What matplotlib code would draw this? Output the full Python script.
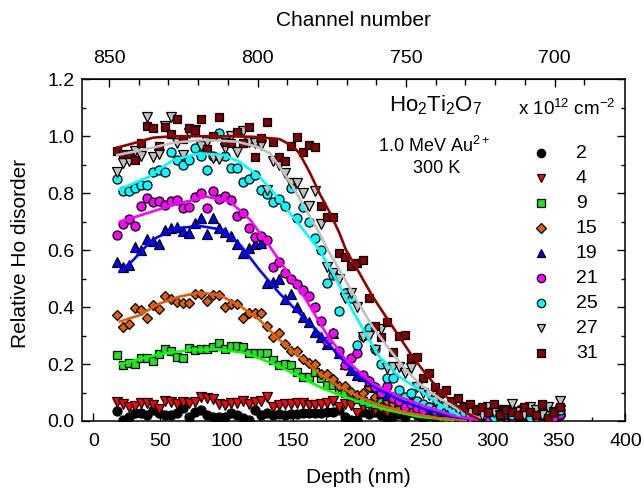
import numpy as np
import matplotlib.pyplot as plt
from matplotlib.ticker import MultipleLocator, FixedLocator

plt.rcParams['font.family'] = ['Liberation Sans', 'DejaVu Sans']
plt.rcParams['mathtext.fontset'] = 'custom'
plt.rcParams['mathtext.rm'] = 'Liberation Sans'

# depth grid of the RBS channels (nm)
depth = [18, 22.5, 27, 31.5, 36, 40.5, 45, 49.5, 54, 58.5, 63, 67.5, 72, 76.5, 81,
         85.5, 90, 94.5, 99, 103.5, 108, 112.5, 117, 121.5, 126, 130.5, 135, 139.5,
         144, 148.5, 153, 157.5, 162, 166.5, 171, 175.5, 180, 184.5, 189, 193.5, 198,
         202.5, 207, 211.5, 216, 220.5, 225, 229.5, 234, 238.5, 243, 247.5, 252,
         256.5, 261, 265.5, 270, 274.5, 279, 283.5, 288, 292.5, 297, 301.5, 306,
         310.5, 315, 319.5, 324, 328.5, 333, 337.5, 342, 346.5, 351]

# relative Ho disorder per fluence (x 10^12 cm^-2)
f2 = [0.036, 0.004, 0.015, 0.027, 0.027, 0.021, 0.039, 0.027, 0.021, 0.021, 0.027,
      0.045, 0.015, 0.033, 0.039, 0.021, 0.015, 0.015, 0.015, 0.027, 0.021, 0.010,
      0.004, 0.039, 0.021, 0.027, 0.021, 0.025, 0.022, 0.025, 0.025, 0.027, 0.027,
      0.029, 0.027, 0.033, 0.033, 0.040, 0.015, 0.004, 0.004, 0.030, 0.025, 0.030,
      0.020, 0.010, 0.018, 0.025, 0.015, 0.030, 0.020, 0.010, 0.025, 0.015, 0.030,
      0.020, 0.010, 0.025, 0.020, 0.030, 0.015, 0.010, 0.025, 0.020, 0.030, 0.015,
      0.020, 0.010, 0.025, 0.030, 0.015, 0.020, 0.025, 0.010, 0.020]
f4 = [0.068, 0.059, 0.050, 0.053, 0.064, 0.062, 0.056, 0.041, 0.071, 0.068, 0.060,
      0.068, 0.064, 0.068, 0.085, 0.080, 0.076, 0.060, 0.056, 0.064, 0.064, 0.071,
      0.060, 0.068, 0.071, 0.085, 0.050, 0.055, 0.058, 0.058, 0.064, 0.062, 0.055,
      0.055, 0.060, 0.062, 0.070, 0.050, 0.060, 0.056, 0.029, 0.050, 0.060, 0.040,
      0.050, 0.030, 0.045, 0.035, 0.050, 0.030, 0.040, 0.025, 0.045, 0.030, 0.035,
      0.020, 0.040, 0.030, 0.025, 0.040, 0.020, 0.035, 0.030, 0.015, 0.040, 0.025,
      0.030, 0.020, 0.040, 0.025, 0.015, 0.035, 0.030, 0.020, 0.040]
f9 = [0.232, 0.197, 0.203, 0.200, 0.220, 0.220, 0.212, 0.235, 0.253, 0.247, 0.226,
      0.220, 0.257, 0.249, 0.253, 0.253, 0.261, 0.273, 0.253, 0.264, 0.263, 0.259,
      0.240, 0.240, 0.238, 0.238, 0.214, 0.197, 0.200, 0.197, 0.173, 0.156, 0.156,
      0.173, 0.150, 0.126, 0.126, 0.110, 0.100, 0.090, 0.076, 0.070, 0.062, 0.060,
      0.070, 0.085, 0.050, 0.060, 0.045, 0.055, 0.040, 0.050, 0.035, 0.045, 0.030,
      0.040, 0.025, 0.035, 0.045, 0.030, 0.020, 0.035, 0.025, 0.040, 0.030, 0.020,
      0.035, 0.025, 0.030, 0.040, 0.020, 0.030, 0.025, 0.035, 0.030]
f15 = [0.372, 0.331, 0.341, 0.396, 0.390, 0.361, 0.407, 0.392, 0.440, 0.427, 0.419,
       0.413, 0.416, 0.446, 0.446, 0.423, 0.442, 0.442, 0.401, 0.411, 0.411, 0.361,
       0.378, 0.380, 0.378, 0.334, 0.294, 0.308, 0.270, 0.247, 0.247, 0.217, 0.203,
       0.200, 0.165, 0.165, 0.146, 0.123, 0.123, 0.103, 0.090, 0.100, 0.120, 0.085,
       0.050, 0.070, 0.060, 0.050, 0.040, 0.045, 0.030, 0.040, 0.020, 0.030, 0.015,
       0.025, 0.010, 0.020, 0.030, 0.010, 0.020, 0.015, 0.025, 0.010, 0.020, 0.015,
       0.010, 0.025, 0.015, 0.020, 0.010, 0.020, 0.015, 0.010, 0.020]
f19 = [0.559, 0.542, 0.548, 0.612, 0.600, 0.638, 0.633, 0.621, 0.671, 0.677, 0.682,
       0.668, 0.659, 0.694, 0.712, 0.656, 0.712, 0.677, 0.665, 0.650, 0.620, 0.589,
       0.607, 0.622, 0.626, 0.486, 0.489, 0.498, 0.427, 0.446, 0.400, 0.366, 0.349,
       0.314, 0.294, 0.270, 0.310, 0.240, 0.200, 0.180, 0.162, 0.158, 0.140, 0.120,
       0.100, 0.090, 0.085, 0.070, 0.060, 0.065, 0.050, 0.055, 0.040, 0.050, 0.035,
       0.045, 0.030, 0.040, 0.025, 0.035, 0.030, 0.040, 0.020, 0.030, 0.035, 0.025,
       0.030, 0.040, 0.020, 0.030, 0.025, 0.035, 0.030, 0.020, 0.040]
f21 = [0.653, 0.692, 0.708, 0.685, 0.755, 0.782, 0.770, 0.773, 0.760, 0.774, 0.776,
       0.747, 0.750, 0.788, 0.802, 0.747, 0.809, 0.779, 0.790, 0.776, 0.720, 0.729,
       0.677, 0.645, 0.651, 0.636, 0.542, 0.560, 0.519, 0.500, 0.480, 0.460, 0.439,
       0.400, 0.351, 0.282, 0.308, 0.246, 0.197, 0.220, 0.240, 0.160, 0.140, 0.120,
       0.100, 0.123, 0.080, 0.070, 0.050, 0.060, 0.045, 0.040, 0.050, 0.030, 0.040,
       0.025, 0.035, 0.020, 0.030, 0.025, 0.035, 0.020, 0.015, 0.030, 0.020, 0.025,
       0.015, 0.030, 0.020, 0.025, 0.015, 0.020, 0.030, 0.015, 0.025]
f25 = [0.849, 0.809, 0.809, 0.817, 0.829, 0.829, 0.876, 0.881, 0.876, 0.944, 0.917,
       0.899, 0.917, 0.958, 0.930, 0.881, 0.930, 1.010, 0.932, 0.887, 0.887, 0.840,
       0.849, 0.864, 0.811, 0.796, 0.770, 0.780, 0.755, 0.817, 0.712, 0.750, 0.700,
       0.644, 0.600, 0.484, 0.513, 0.386, 0.450, 0.431, 0.267, 0.300, 0.326, 0.252,
       0.200, 0.150, 0.150, 0.110, 0.085, 0.100, 0.070, 0.060, 0.050, 0.040, 0.045,
       0.030, 0.040, 0.020, 0.030, 0.025, 0.035, 0.020, 0.030, 0.015, 0.025, 0.030,
       0.020, 0.035, 0.025, 0.015, 0.030, 0.020, 0.025, 0.030, 0.040]
f27 = [0.876, 0.907, 0.913, 0.949, 0.930, 1.066, 0.928, 0.937, 1.036, 1.066, 0.975,
       0.934, 1.013, 1.022, 0.966, 0.980, 0.922, 0.919, 0.960, 1.001, 0.946, 1.019,
       0.981, 0.977, 0.969, 0.811, 0.914, 0.900, 0.872, 0.835, 0.837, 0.800, 0.755,
       0.809, 0.692, 0.542, 0.519, 0.498, 0.431, 0.450, 0.401, 0.296, 0.300, 0.250,
       0.322, 0.185, 0.191, 0.191, 0.170, 0.185, 0.120, 0.100, 0.090, 0.070, 0.080,
       0.050, 0.060, 0.040, 0.050, 0.030, 0.040, 0.020, 0.050, 0.030, 0.020, 0.040,
       0.060, 0.030, 0.020, 0.050, 0.040, 0.020, 0.050, 0.030, 0.070]
f31 = [0.948, 0.937, 0.937, 0.917, 0.975, 1.036, 1.028, 0.966, 1.033, 1.008, 1.060,
       0.990, 1.028, 1.022, 1.060, 0.954, 1.000, 1.066, 0.981, 0.975, 1.016, 0.975,
       1.034, 0.928, 0.995, 1.049, 0.981, 0.926, 0.913, 0.966, 0.998, 0.944, 0.969,
       0.961, 0.755, 0.715, 0.715, 0.589, 0.577, 0.544, 0.556, 0.565, 0.431, 0.334,
       0.296, 0.349, 0.243, 0.300, 0.302, 0.220, 0.224, 0.150, 0.170, 0.120, 0.100,
       0.110, 0.070, 0.080, 0.050, 0.060, 0.040, 0.050, 0.030, 0.060, 0.020, 0.040,
       0.030, 0.020, 0.050, 0.030, 0.020, 0.060, 0.010, 0.030, 0.050]

# fitted curves (depth, disorder)
fit9_d = [20, 50, 73, 93, 113, 125, 140, 155, 170, 185, 200, 220, 245, 270]
fit9_v = [0.200, 0.235, 0.249, 0.252, 0.240, 0.220, 0.191, 0.156, 0.120, 0.091, 0.068, 0.040, 0.015, 0.003]
fit15_d = [20, 35, 50, 65, 80, 95, 110, 125, 140, 155, 170, 185, 200, 215, 235, 260, 280]
fit15_v = [0.349, 0.372, 0.413, 0.437, 0.451, 0.442, 0.405, 0.355, 0.284, 0.226, 0.167, 0.120, 0.085, 0.056, 0.030, 0.010, 0.003]
fit19_d = [20, 30, 40, 48, 63, 80, 98, 111, 125, 140, 155, 170, 185, 200, 215, 230, 250, 270, 290]
fit19_v = [0.525, 0.565, 0.615, 0.645, 0.677, 0.685, 0.671, 0.615, 0.530, 0.448, 0.378, 0.308, 0.226, 0.156, 0.109, 0.074, 0.040, 0.015, 0.003]
fit21_d = [20, 40, 60, 85, 103, 118, 130, 145, 160, 175, 190, 210, 230, 250, 270, 290]
fit21_v = [0.700, 0.729, 0.759, 0.788, 0.770, 0.706, 0.630, 0.530, 0.425, 0.308, 0.214, 0.132, 0.085, 0.050, 0.020, 0.003]
fit25_d = [20, 42, 60, 80, 98, 110, 125, 135, 150, 160, 170, 180, 190, 203, 215, 230, 245, 260, 275]
fit25_v = [0.814, 0.858, 0.917, 0.940, 0.934, 0.910, 0.858, 0.805, 0.717, 0.659, 0.600, 0.520, 0.430, 0.320, 0.226, 0.156, 0.109, 0.060, 0.020]
fit27_d = [18, 40, 60, 83, 108, 123, 133, 140, 150, 160, 170, 177, 188, 198, 210, 223, 235, 245, 260, 275, 290]
fit27_v = [0.934, 0.955, 0.977, 0.987, 0.981, 0.963, 0.940, 0.893, 0.823, 0.741, 0.659, 0.595, 0.507, 0.425, 0.331, 0.249, 0.179, 0.132, 0.080, 0.040, 0.010]
fit31_d = [18, 30, 45, 60, 80, 100, 120, 140, 150, 155, 163, 170, 178, 185, 190, 200, 210, 220, 230, 240, 250, 260, 270, 280, 290]
fit31_v = [0.960, 0.975, 0.995, 1.000, 1.000, 1.000, 0.998, 0.990, 0.965, 0.940, 0.870, 0.800, 0.730, 0.660, 0.600, 0.520, 0.437, 0.366, 0.296, 0.226, 0.165, 0.110, 0.065, 0.030, 0.005]

labels = ['2', '4', '9', '15', '19', '21', '25', '27', '31']
series = [f2, f4, f9, f15, f19, f21, f25, f27, f31]
fill = ['black', '#FF0000', '#22E022', '#DC5F0A', '#0000FF', '#FF00FF', '#00FFFF', '#C0C0C0', '#800000']
marks = ['o', 'v', 's', 'D', '^', 'o', 'o', 'v', 's']
sizes = [6.5, 6.5, 6, 5.5, 6.5, 6.5, 6.5, 6.5, 6]
fits = [None, None, (fit9_d, fit9_v, '#00FF00'), (fit15_d, fit15_v, '#DC5F0A'),
        (fit19_d, fit19_v, '#0000FF'), (fit21_d, fit21_v, '#FF00FF'),
        (fit25_d, fit25_v, '#00FFFF'), (fit27_d, fit27_v, '#C0C0C0'),
        (fit31_d, fit31_v, '#8B0000')]

fig = plt.figure(figsize=(6.44, 4.94), dpi=100)
ax = fig.add_axes([0.1269, 0.1478, 0.8442, 0.6917])

for vals, fc, mk, ms, ft in zip(series, fill, marks, sizes, fits):
    ax.plot(depth, vals, ls='none', marker=mk, ms=ms, mfc=fc, mec='black', mew=0.9, zorder=3)
    if ft is not None:
        ax.plot(ft[0], ft[1], color=ft[2], lw=1.9, zorder=4)

ax.set_xlim(-8.7, 400)
ax.set_ylim(0, 1.2)
ax.xaxis.set_major_locator(MultipleLocator(50))
ax.xaxis.set_minor_locator(MultipleLocator(25))
ax.yaxis.set_major_locator(MultipleLocator(0.2))
ax.yaxis.set_minor_locator(MultipleLocator(0.1))
ax.yaxis.set_major_formatter(plt.FormatStrFormatter('%.1f'))
ax.tick_params(which='both', direction='in', right=True, labelsize=14, width=1)
ax.tick_params(which='major', length=6)
ax.tick_params(which='minor', length=3)
ax.tick_params(axis='x', which='both', top=False, pad=8.5)
ax.tick_params(axis='y', pad=5)
for s in ax.spines.values():
    s.set_linewidth(1.1)
ax.set_xlabel('Depth (nm)', fontsize=15, va='center')
ax.xaxis.set_label_coords(0.508, -0.164)
ax.set_ylabel('Relative Ho disorder', fontsize=15, va='center')
ax.yaxis.set_label_coords(-0.1135, 0.49)

# top axis: channel number
top = ax.secondary_xaxis('top', functions=(lambda d: 850 - (d - 11.8) / 2.233,
                                           lambda c: 11.8 + 2.233 * (850 - c)))
top.xaxis.set_major_locator(FixedLocator([850, 800, 750, 700]))
top.xaxis.set_minor_locator(FixedLocator(list(range(690, 861, 10))))
top.tick_params(which='both', direction='in', labelsize=14, width=1, pad=9)
top.tick_params(which='major', length=6)
top.tick_params(which='minor', length=4)
top.set_xlabel('Channel number', fontsize=15, labelpad=17)

# annotations
ax.text(0.651, 0.925, r'Ho$_2$Ti$_2$O$_7$', transform=ax.transAxes, fontsize=16, ha='center', va='center')
ax.text(0.648, 0.804, r'1.0 MeV Au$^{2+}$', transform=ax.transAxes, fontsize=13, ha='center', va='center')
ax.text(0.652, 0.740, '300 K', transform=ax.transAxes, fontsize=13, ha='center', va='center')
ax.text(0.893, 0.915, r'x 10$^{12}$ cm$^{-2}$', transform=ax.transAxes, fontsize=13.5, ha='center', va='center')

for i, (lab, fc, mk, ms) in enumerate(zip(labels, fill, marks, sizes)):
    y = 0.784 - 0.0732 * i
    ax.plot([0.844], [y], transform=ax.transAxes, marker=mk, ms=ms - 0.5, mfc=fc,
            mec='black', mew=0.9, ls='none', clip_on=False)
    ax.text(0.909, y, lab, transform=ax.transAxes, fontsize=14, ha='left', va='center')

fig.savefig('out.png', dpi=100)
